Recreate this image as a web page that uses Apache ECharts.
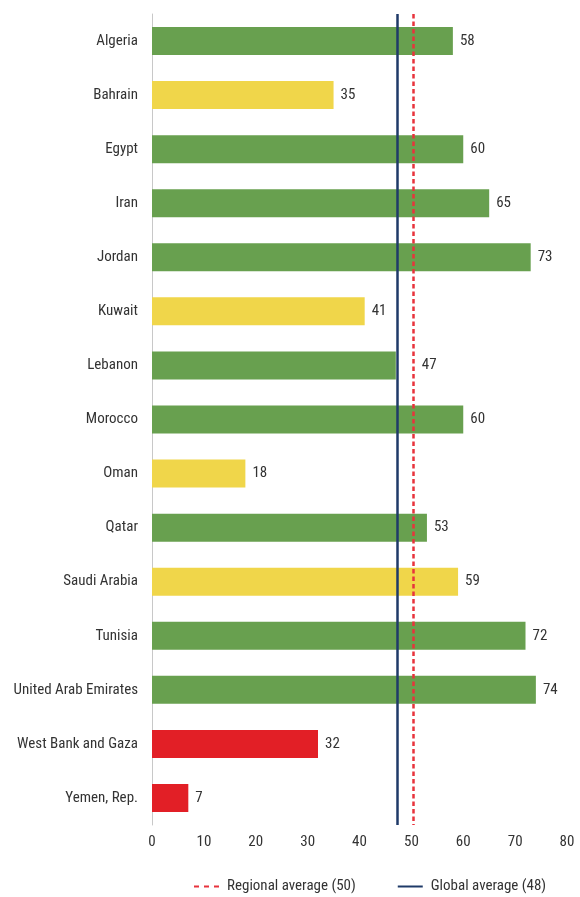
<!DOCTYPE html>
<html><head><meta charset="utf-8">
<script src="https://cdn.jsdelivr.net/npm/echarts@6/dist/echarts.min.js"></script>
<style>html,body{margin:0;padding:0;background:#fff}#c{width:580px;height:897px}</style>
</head><body><div id="c"></div>
<script>
const countries = ["Algeria","Bahrain","Egypt","Iran","Jordan","Kuwait","Lebanon","Morocco","Oman","Qatar","Saudi Arabia","Tunisia","United Arab Emirates","West Bank and Gaza","Yemen, Rep."];
const scores = [58,35,60,65,73,41,47,60,18,53,59,72,74,32,7];
const groups = ["high","mid","high","high","high","mid","high","high","mid","high","mid","high","high","low","low"];
const xTicks = [0,10,20,30,40,50,60,70,80];
const regionalAvg = 50.3;
const globalAvg = 47.3;
const regionalLabel = "Regional average (50)";
const globalLabel = "Global average (48)";

const colorMap = {high:"#68a04f", mid:"#f0d64a", low:"#e21f26"};
const RED = "#e8333c", NAVY = "#1f3a68";
const FONT = "'Liberation Sans Narrow','Roboto Condensed','Liberation Sans',sans-serif";
const chart = echarts.init(document.getElementById('c'));
chart.setOption({
  animation:false,
  textStyle:{fontFamily:FONT},
  grid:{left:152,right:13,top:14,bottom:72,containLabel:false},
  xAxis:{type:'value',min:xTicks[0],max:xTicks[xTicks.length-1],interval:10,
    axisLine:{show:false},axisTick:{show:false},splitLine:{show:false},
    axisLabel:{color:'#333',fontSize:15,fontFamily:FONT,margin:10}},
  yAxis:{type:'category',data:countries,inverse:true,
    axisLine:{show:true,lineStyle:{color:'#c8c8c8',width:1}},axisTick:{show:false},
    axisLabel:{color:'#333',fontSize:15,fontFamily:FONT,margin:14}},
  legend:{top:874,left:189,itemGap:42,itemWidth:25,itemHeight:2.5,
    textStyle:{color:'#333',fontSize:15,fontFamily:FONT,padding:[0,0,0,3]},
    data:[
      {name:regionalLabel,icon:'path://M0,0h5v2h-5zM10,0h5v2h-5zM20,0h5v2h-5z'},
      {name:globalLabel,icon:'path://M0,0h25v2h-25z'}
    ]},
  series:[
    {type:'bar',name:'Score',barWidth:28,
      data:scores.map((v,i)=>{
        const d={value:v,itemStyle:{color:colorMap[groups[i]]}};
        if(v<regionalAvg && v>globalAvg-3){d.label={distance:26};}
        return d;
      }),
      label:{show:true,position:'right',distance:7,color:'#333',fontSize:15,fontFamily:FONT}},
    {type:'line',name:regionalLabel,data:[],symbol:'none',
      lineStyle:{color:RED,width:2.5,type:[4.5,3]},itemStyle:{color:RED},
      markLine:{silent:true,symbol:'none',label:{show:false},
        lineStyle:{color:RED,width:2.5,type:[4.5,3]},data:[{xAxis:regionalAvg}]}},
    {type:'line',name:globalLabel,data:[],symbol:'none',
      lineStyle:{color:NAVY,width:2.5,type:'solid'},itemStyle:{color:NAVY},
      markLine:{silent:true,symbol:'none',label:{show:false},
        lineStyle:{color:NAVY,width:2.5,type:'solid'},data:[{xAxis:globalAvg}]}}
  ]
});
</script></body></html>
